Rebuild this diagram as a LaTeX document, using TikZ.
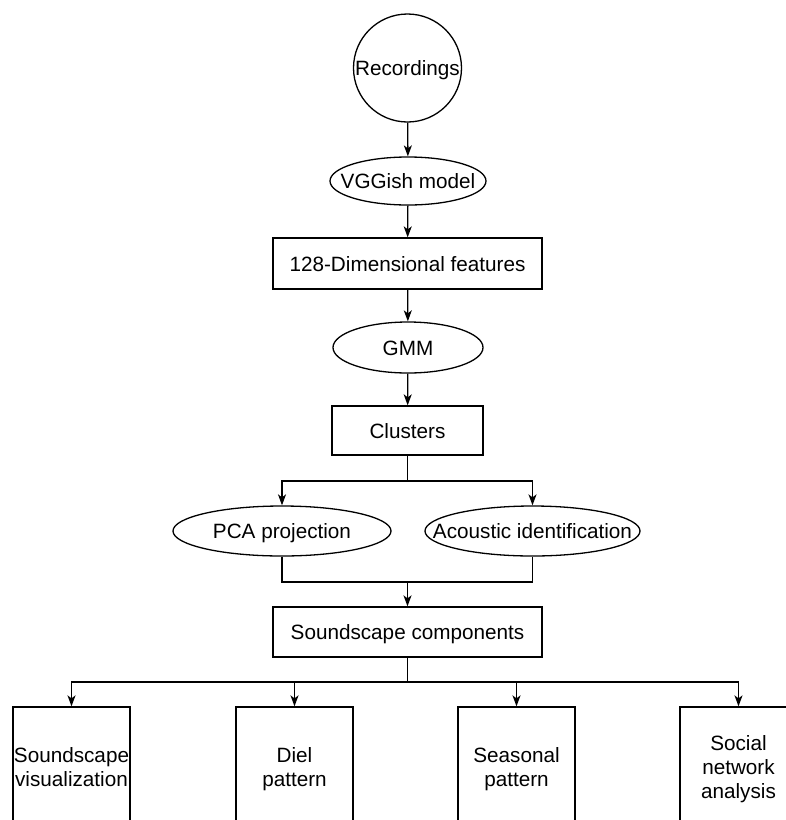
\documentclass[tikz,border=0pt]{standalone}
\usepackage{fontspec}
\setmainfont{Liberation Sans}
\usetikzlibrary{shapes.geometric,arrows.meta}
\tikzset{
  core/.style={draw, line width=1.3pt, inner sep=0pt, font=\fontsize{20.7}{24.2}\selectfont, align=center, text depth=4.4pt},
  base/.style={core, text height=20.2pt},
  rbox/.style={base, rectangle, minimum width=#1, minimum height=50pt},
  ell/.style={base, ellipse, minimum width=#1, minimum height=50pt},
  outbox/.style={core, rectangle, minimum width=117pt, minimum height=120pt, text height=#1},
  conn/.style={line width=1.3pt},
  arr/.style={conn, -{Stealth[length=11pt, width=8pt, inset=3pt]}}
}
\begin{document}
\begin{tikzpicture}[x=1pt, y=-1pt]
\useasboundingbox (0,0) rectangle (786,820);
\clip (0,0) rectangle (786,820);
\node[base, circle, minimum size=108pt] (rec) at (407.5,68) {\makebox[0pt]{Recordings}};
\node[ell=156pt, minimum height=48pt] (vgg) at (408,181) {\makebox[0pt]{VGGish model}};
\node[rbox=269pt, minimum height=51pt] (feat) at (407.5,263.5) {128-Dimensional features};
\node[ell=150pt, minimum height=51pt] (gmm) at (408,347.5) {\makebox[0pt]{GMM}};
\node[rbox=151pt, minimum height=49pt] (clu) at (407.5,430.5) {Clusters};
\node[ell=218pt] (pca) at (282,531) {\makebox[0pt]{PCA projection}};
\node[ell=215pt] (aco) at (532.5,531) {\makebox[0pt]{Acoustic identification}};
\node[rbox=269pt] (sc) at (407.5,632) {Soundscape components};
\node[outbox=44pt] (o1) at (71.5,767) {Soundscape\\visualization};
\node[outbox=44pt] (o2) at (294.5,767) {Diel\\pattern};
\node[outbox=44pt] (o3) at (516.5,767) {Seasonal\\pattern};
\node[outbox=67.4pt] (o4) at (738.5,767) {Social\\network\\analysis};
\coordinate (b1) at (407.5,481);
\coordinate (m) at (407.5,582);
\coordinate (b2) at (407.5,682);
\draw[arr] (rec) -- (vgg);
\draw[arr] (vgg) -- (feat);
\draw[arr] (feat) -- (gmm);
\draw[arr] (gmm) -- (clu);
\draw[conn] (clu.south) -- (b1);
\draw[arr] (b1) -| (pca.north);
\draw[arr] (b1) -| (aco.north);
\draw[conn] (pca.south) |- (m) -| (aco.south);
\draw[arr] (m) -- (sc.north);
\draw[conn] (sc.south) -- (b2);
\draw[arr] (b2) -| (o1.north);
\draw[arr] (b2) -| (o2.north);
\draw[arr] (b2) -| (o3.north);
\draw[arr] (b2) -| (o4.north);
\end{tikzpicture}
\end{document}
